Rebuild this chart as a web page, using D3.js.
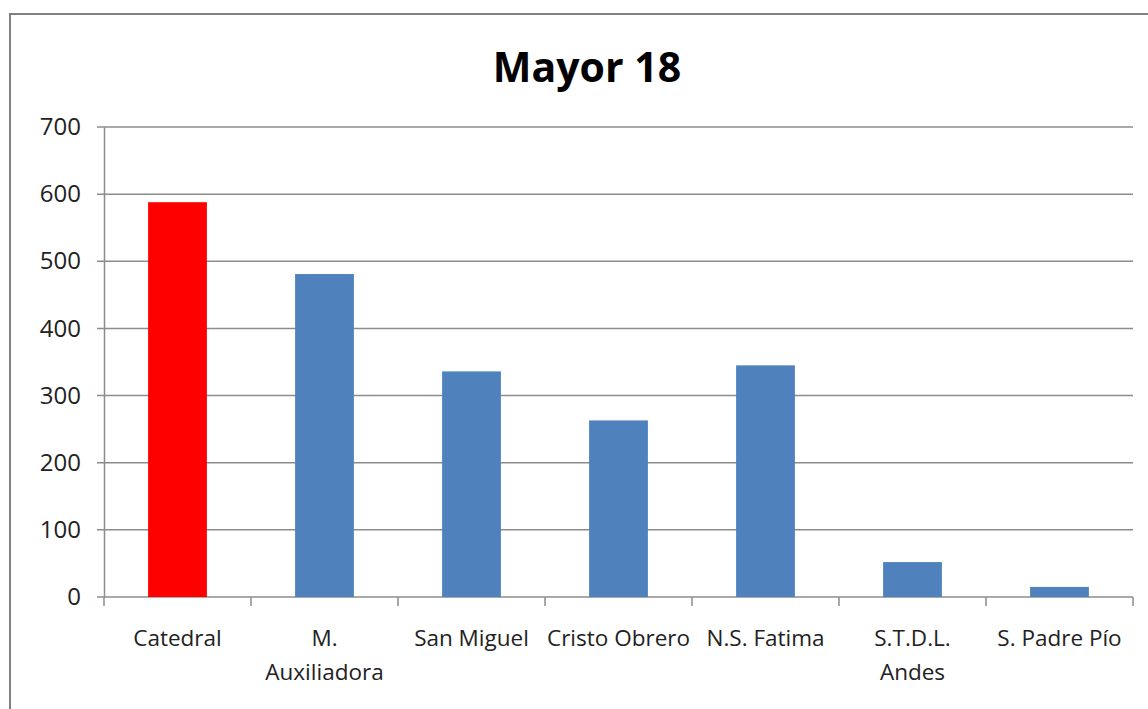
<!DOCTYPE html>
<html>
<head>
<meta charset="utf-8">
<script src="https://cdn.jsdelivr.net/npm/d3@7"></script>
<style>
 body{margin:0;background:#fff;}
 svg{display:block;font-family:"Open Sans",sans-serif;}
</style>
</head>
<body>
<div id="chart"></div>
<script>
// data
var categories = ["Catedral", "M. Auxiliadora", "San Miguel", "Cristo Obrero", "N.S. Fatima", "S.T.D.L. Andes", "S. Padre Pío"];
var values = [588, 481, 336, 263, 345, 52, 15];
var highlight = ["Catedral"];
var yTicks = [0, 100, 200, 300, 400, 500, 600, 700];

var width = 1148, height = 709;
var margin = {left: 104, right: 15, top: 127, bottom: 112};

var svg = d3.select('#chart')
  .append("svg")
  .attr("width", width)
  .attr("height", height);

// outer frame
svg.append("rect")
  .attr("x", 10).attr("y", 14)
  .attr("width", 1160).attr("height", 720)
  .attr("fill", "#fff")
  .attr("stroke", "#808080")
  .attr("stroke-width", 2);

svg.append("text")
  .attr("x", 587).attr("y", 82)
  .attr("text-anchor", "middle")
  .attr("font-size", 41)
  .attr("font-weight", "bold")
  .attr("fill", "#000")
  .text("Mayor 18");

var x = d3.scaleBand()
  .domain(categories)
  .range([margin.left, width - margin.right])
  .paddingInner(0.6).paddingOuter(0.3);

var y = d3.scaleLinear()
  .domain([0, 700])
  .range([height - margin.bottom, margin.top]);

// gridlines
svg.append("g")
  .selectAll("line")
  .data(yTicks)
  .enter().append("line")
  .attr("x1", margin.left - 7)
  .attr("x2", width - margin.right)
  .attr("y1", function(d){ return y(d); })
  .attr("y2", function(d){ return y(d); })
  .attr("stroke", "#8c8c8c")
  .attr("stroke-width", 1.5);

// y axis
var yAxis = svg.append("g")
  .attr("transform", "translate(" + margin.left + ",0)")
  .call(d3.axisLeft(y).tickValues(yTicks).tickSize(0).tickPadding(23));
yAxis.select(".domain").attr("stroke", "#8c8c8c").attr("stroke-width", 1.5);
yAxis.selectAll("text").attr("font-size", 24).attr("fill", "#222").attr("font-family", "Open Sans");

// bars
svg.append("g")
  .selectAll("rect")
  .data(values)
  .enter().append("rect")
  .attr("x", function(d, i){ return x(categories[i]); })
  .attr("width", x.bandwidth())
  .attr("y", function(d){ return y(d); })
  .attr("height", function(d){ return y(0) - y(d); })
  .attr("fill", function(d, i){ return highlight.indexOf(categories[i]) >= 0 ? "#ff0000" : "#4f81bd"; });

// x axis with ticks between categories
var x0 = margin.left;
var boundaries = d3.range(categories.length + 1).map(function(i){ return x0 + i * (width - margin.right - margin.left) / categories.length; });
svg.append("g")
  .selectAll("line")
  .data(boundaries)
  .enter().append("line")
  .attr("x1", function(d){ return d; })
  .attr("x2", function(d){ return d; })
  .attr("y1", y(0))
  .attr("y2", y(0) + 9)
  .attr("stroke", "#8c8c8c")
  .attr("stroke-width", 1.5);

var wrapped = {"M. Auxiliadora": ["M.", "Auxiliadora"], "S.T.D.L. Andes": ["S.T.D.L.", "Andes"]};
var labels = svg.append("g")
  .selectAll("text")
  .data(categories)
  .enter().append("text")
  .attr("text-anchor", "middle")
  .attr("font-size", 22.5)
  .attr("fill", "#222")
  .attr("y", y(0) + 49);
labels.each(function(c){
  var lines = wrapped[c] || [c];
  var cx = x(c) + x.bandwidth() / 2;
  d3.select(this).selectAll("tspan")
    .data(lines)
    .enter().append("tspan")
    .attr("x", cx)
    .attr("dy", function(d, i){ return i === 0 ? 0 : 34; })
    .text(function(d){ return d; });
});
</script>
</body>
</html>
